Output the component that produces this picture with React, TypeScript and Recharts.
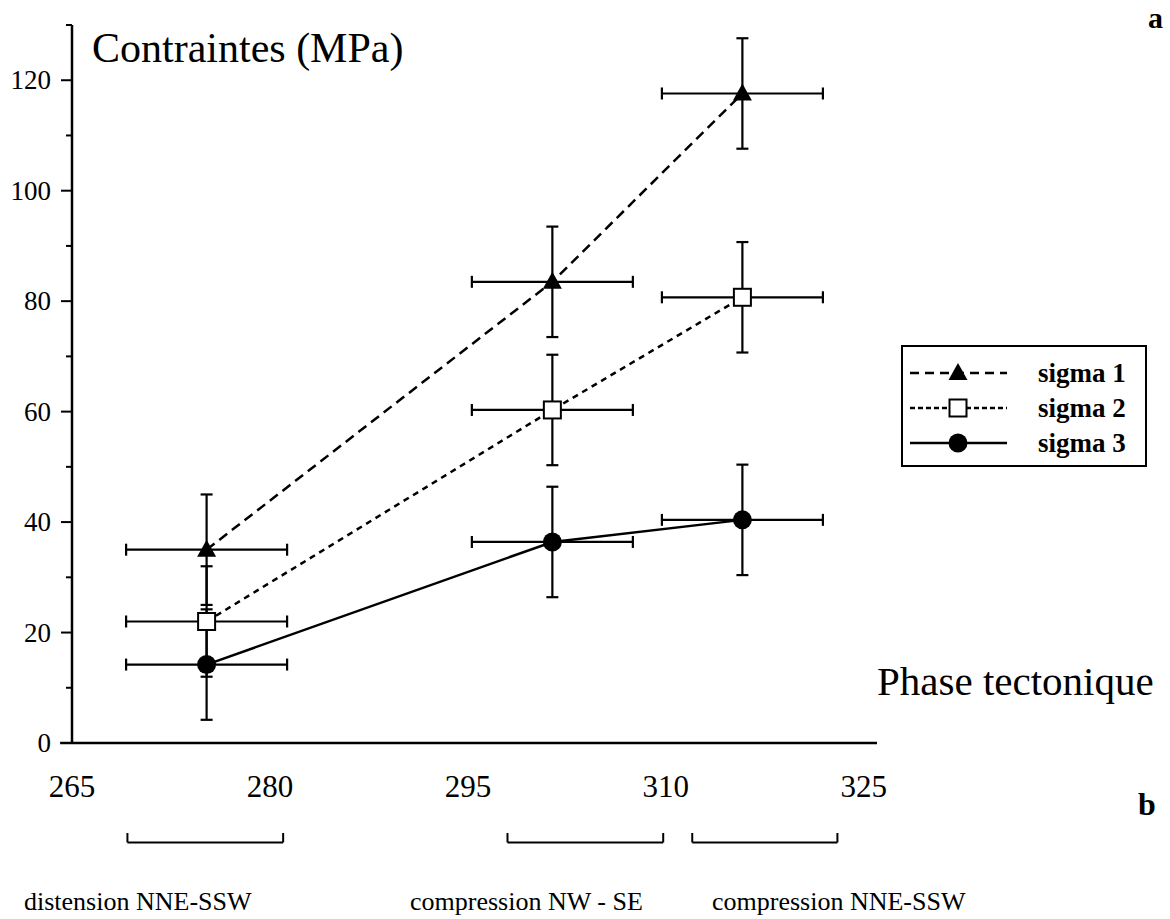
import React from "react";
import {
  ScatterChart,
  Scatter,
  XAxis,
  YAxis,
  ErrorBar,
  ReferenceLine,
  Legend,
} from "recharts";

// tectonic phase ages (x) with their spread
const phaseAges = [275.2, 301.4, 315.8];
const ageErr = [6.1, 6.1, 6.1];

// stresses (MPa), +/- 10 MPa
const sigma1 = [35, 83.5, 117.6];
const sigma2 = [22, 60.3, 80.7];
const sigma3 = [14.2, 36.4, 40.4];
const stressErr = [10, 10, 10];

const xTicks = [265, 280, 295, 310, 325];
const yTicks = [0, 10, 20, 30, 40, 50, 60, 70, 80, 90, 100, 110, 120, 130];

// bracket ranges under the axis and their captions
const phaseStart = [269.2, 298, 312];
const phaseEnd = [281, 309.8, 323];
const phaseNames = ["distension NNE-SSW", "compression NW - SE", "compression NNE-SSW"];

const seriesNames = ["sigma 1", "sigma 2", "sigma 3"];

const FONT = "'Liberation Serif', 'Times New Roman', serif";

const toPoints = (vals: number[]) =>
  phaseAges.map((x, i) => ({ x, y: vals[i], ex: ageErr[i], ey: stressErr[i] }));

const TriangleMark = (p: any) => (
  <polygon
    points={`${p.cx},${p.cy - 10} ${p.cx - 9.5},${p.cy + 7} ${p.cx + 9.5},${p.cy + 7}`}
    fill="#000"
  />
);
const SquareMark = (p: any) => (
  <rect x={p.cx - 8.5} y={p.cy - 8.5} width={17} height={17} fill="#fff" stroke="#000" strokeWidth={2} />
);
const CircleMark = (p: any) => <circle cx={p.cx} cy={p.cy} r={9.5} fill="#000" />;

const YTick = ({ x, y, payload }: any) => {
  const major = payload.value % 20 === 0;
  return (
    <g>
      <line x1={x - (major ? 11 : 6)} x2={x} y1={y} y2={y} stroke="#000" strokeWidth={2} />
      {major && (
        <text x={x - 21} y={y + 9} textAnchor="end" fontFamily={FONT} fontSize={27} fill="#000">
          {payload.value}
        </text>
      )}
    </g>
  );
};

const XTick = ({ x, y, payload }: any) => (
  <text x={x} y={y + 54} textAnchor="middle" fontFamily={FONT} fontSize={31} fill="#000">
    {payload.value}
  </text>
);

const legendDash = ["9 6", "5 3", undefined];
const legendMarks = [TriangleMark, SquareMark, CircleMark];

const LegendBox = () => (
  <svg width={246} height={122} style={{ display: "block" }}>
    <rect x={1} y={1} width={244} height={120} fill="#fff" stroke="#000" strokeWidth={2} />
    {seriesNames.map((name, i) => {
      const cy = 28 + i * 35;
      const Mark = legendMarks[i];
      return (
        <g key={name}>
          <line x1={9} x2={106} y1={cy} y2={cy} stroke="#000" strokeWidth={2.5} strokeDasharray={legendDash[i]} />
          <Mark cx={57} cy={cy} />
          <text x={137} y={cy + 9} fontFamily={FONT} fontSize={27} fontWeight="bold" fill="#000">
            {name}
          </text>
        </g>
      );
    })}
  </svg>
);

export default function App() {
  const bracketY = -18;
  const bracketUp = -16.3;
  return (
    <div style={{ position: "absolute", left: 0, top: 0, width: 1170, height: 919, background: "#fff" }}>
      <ScatterChart width={1170} height={919} margin={{ top: 25, right: 293, bottom: 126, left: 12 }}>
        <XAxis
          type="number"
          dataKey="x"
          domain={[265, 326]}
          ticks={xTicks}
          interval={0}
          allowDataOverflow
          tickLine={false}
          tickSize={0}
          tickMargin={0}
          height={50}
          axisLine={{ stroke: "#000", strokeWidth: 2.5 }}
          tick={<XTick />}
        />
        <YAxis
          type="number"
          dataKey="y"
          domain={[0, 130]}
          ticks={yTicks}
          interval={0}
          allowDataOverflow
          tickLine={false}
          tickSize={0}
          tickMargin={0}
          width={60}
          axisLine={{ stroke: "#000", strokeWidth: 2.5 }}
          tick={<YTick />}
        />
        {/* the baseline runs a little past the y axis, as in the print */}
        <ReferenceLine
          ifOverflow="visible"
          segment={[{ x: 264.1, y: 0 }, { x: 265, y: 0 }]}
          stroke="#000"
          strokeWidth={2.5}
        />
        {phaseStart.map((a, i) => (
          <ReferenceLine
            key={`h${i}`}
            ifOverflow="visible"
            segment={[{ x: a, y: bracketY }, { x: phaseEnd[i], y: bracketY }]}
            stroke="#000"
            strokeWidth={2}
          />
        ))}
        {phaseStart.map((a, i) => (
          <ReferenceLine
            key={`l${i}`}
            ifOverflow="visible"
            segment={[{ x: a, y: bracketY }, { x: a, y: bracketUp }]}
            stroke="#000"
            strokeWidth={2}
          />
        ))}
        {phaseEnd.map((b, i) => (
          <ReferenceLine
            key={`r${i}`}
            ifOverflow="visible"
            segment={[{ x: b, y: bracketY }, { x: b, y: bracketUp }]}
            stroke="#000"
            strokeWidth={2}
          />
        ))}
        <Scatter
          name={seriesNames[2]}
          data={toPoints(sigma3)}
          line={{ stroke: "#000", strokeWidth: 2.5 }}
          lineType="joint"
          shape={CircleMark}
          isAnimationActive={false}
        >
          <ErrorBar dataKey="ex" direction="x" width={6} stroke="#000" strokeWidth={2.2} />
          <ErrorBar dataKey="ey" direction="y" width={6} stroke="#000" strokeWidth={2.2} />
        </Scatter>
        <Scatter
          name={seriesNames[1]}
          data={toPoints(sigma2)}
          line={{ stroke: "#000", strokeWidth: 2.5, strokeDasharray: "6 5" }}
          lineType="joint"
          shape={SquareMark}
          isAnimationActive={false}
        >
          <ErrorBar dataKey="ex" direction="x" width={6} stroke="#000" strokeWidth={2.2} />
          <ErrorBar dataKey="ey" direction="y" width={6} stroke="#000" strokeWidth={2.2} />
        </Scatter>
        <Scatter
          name={seriesNames[0]}
          data={toPoints(sigma1)}
          line={{ stroke: "#000", strokeWidth: 2.5, strokeDasharray: "10 6" }}
          lineType="joint"
          shape={TriangleMark}
          isAnimationActive={false}
        >
          <ErrorBar dataKey="ex" direction="x" width={6} stroke="#000" strokeWidth={2.2} />
          <ErrorBar dataKey="ey" direction="y" width={6} stroke="#000" strokeWidth={2.2} />
        </Scatter>
        <Legend
          layout="vertical"
          align="center"
          verticalAlign="middle"
          wrapperStyle={{ left: 901, top: 345, width: 246, height: 122 }}
          content={() => <LegendBox />}
        />
      </ScatterChart>
      <svg
        width={1170}
        height={919}
        style={{ position: "absolute", left: 0, top: 0, pointerEvents: "none" }}
      >
        <text x={92} y={62} fontFamily={FONT} fontSize={42} fill="#000">
          Contraintes (MPa)
        </text>
        <text x={877} y={695} fontFamily={FONT} fontSize={41} fill="#000">
          Phase tectonique
        </text>
        <text x={1148} y={28} fontFamily={FONT} fontSize={30} fontWeight="bold" fill="#000">
          a
        </text>
        <text x={1138} y={815} fontFamily={FONT} fontSize={32} fontWeight="bold" fill="#000">
          b
        </text>
        <text x={24} y={910} fontFamily={FONT} fontSize={26} fill="#000">
          {phaseNames[0]}
        </text>
        <text x={410} y={910} fontFamily={FONT} fontSize={26} fill="#000">
          {phaseNames[1]}
        </text>
        <text x={712} y={910} fontFamily={FONT} fontSize={26} fill="#000">
          {phaseNames[2]}
        </text>
      </svg>
    </div>
  );
}
